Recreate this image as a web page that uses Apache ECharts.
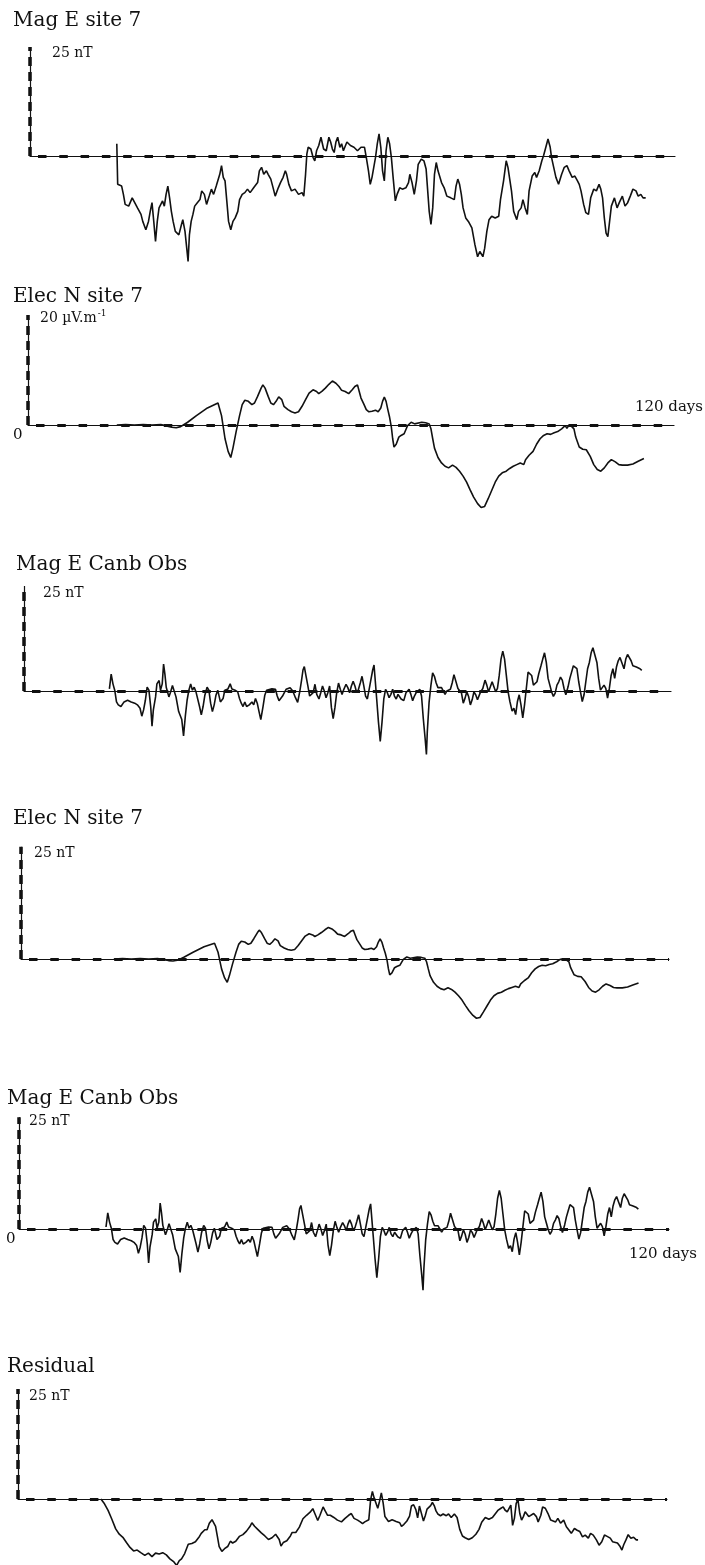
<!DOCTYPE html>
<html>
<head>
<meta charset="utf-8">
<script src="https://cdn.jsdelivr.net/npm/echarts@6/dist/echarts.min.js"></script>
<style>
html, body { margin: 0; padding: 0; background: #fff; }
#chart { width: 705px; height: 1565px; }
</style>
</head>
<body>
<div id="chart"></div>
<script>
// [day from start of record, value]
const magSite7 = [[0,2.8],[0.2,-6.5],[1.1,-6.9],[1.5,-8.8],[1.9,-11.1],[2.7,-11.5],[3.5,-9.6],[3.9,-10.0],[4.7,-11.9],[5.5,-13.4],[5.9,-15.0],[6.6,-16.9],[7.2,-15.0],[7.6,-12.7],[8.0,-10.7],[8.4,-15.0],[8.8,-19.6],[9.2,-15.0],[9.6,-11.9],[10.0,-11.1],[10.4,-10.3],[10.8,-11.5],[11.2,-8.8],[11.6,-6.9],[12.0,-9.6],[12.4,-12.7],[12.8,-15.0],[13.3,-17.3],[14.1,-18.1],[14.7,-15.7],[15.0,-14.6],[15.5,-17.3],[15.9,-21.2],[16.2,-24.2],[16.5,-18.1],[16.9,-15.0],[17.3,-13.4],[17.7,-11.5],[18.3,-10.7],[18.9,-10.0],[19.3,-8.0],[19.9,-8.8],[20.4,-11.1],[21.0,-9.2],[21.5,-7.6],[22.0,-8.8],[22.6,-6.9],[23.0,-6.5],[23.4,-4.2],[23.8,-2.2],[24.2,-4.9],[24.6,-5.7],[25.0,-10.3],[25.4,-15.0],[25.9,-16.9],[26.4,-15.0],[26.9,-14.2],[27.5,-12.7],[27.9,-10.0],[28.5,-8.8],[29.1,-8.4],[29.7,-7.6],[30.3,-8.4],[31.1,-7.3],[32.0,-6.1],[32.4,-3.4],[32.9,-2.6],[33.4,-4.2],[34.0,-3.4],[34.4,-4.2],[35.0,-5.3],[35.6,-7.6],[36.0,-9.2],[36.7,-7.3],[37.2,-6.1],[37.8,-4.9],[38.3,-3.4],[38.6,-4.2],[39.1,-6.5],[39.7,-8.0],[40.5,-7.6],[41.3,-8.8],[42.1,-8.4],[42.5,-9.2],[42.9,-4.2],[43.2,0.5],[43.5,2.0],[44.1,1.6],[44.6,-0.3],[45.0,-1.1],[45.4,1.2],[45.9,2.4],[46.4,4.3],[47.0,1.6],[47.6,1.2],[48.2,4.3],[48.6,3.2],[49.0,1.6],[49.4,0.8],[49.8,3.2],[50.2,4.3],[50.7,2.0],[51.1,2.8],[51.5,1.2],[52.3,3.2],[53.1,2.4],[53.9,2.0],[54.7,1.2],[55.5,2.0],[56.3,2.0],[56.7,-0.3],[57.2,-3.4],[57.6,-6.5],[58.0,-4.9],[58.4,-2.6],[58.8,-0.3],[59.2,2.8],[59.6,5.1],[60.0,2.0],[60.4,-3.4],[60.8,-5.7],[61.2,1.2],[61.6,4.3],[62.0,2.8],[62.4,-0.3],[62.8,-4.9],[63.3,-10.3],[63.7,-8.8],[64.3,-7.3],[64.9,-7.6],[65.7,-7.3],[66.3,-6.1],[66.6,-4.2],[67.1,-6.1],[67.6,-8.8],[68.1,-5.7],[68.5,-1.9],[69.2,-0.7],[69.8,-1.1],[70.3,-3.0],[71.0,-12.7],[71.4,-15.7],[71.8,-11.9],[72.2,-4.2],[72.6,-1.5],[73.0,-3.4],[73.8,-6.1],[74.4,-7.3],[75.0,-9.2],[75.9,-9.6],[76.7,-10.0],[77.1,-6.9],[77.5,-5.3],[77.9,-6.5],[78.3,-8.8],[78.7,-11.9],[79.3,-14.2],[79.9,-15.0],[80.7,-16.5],[81.4,-20.4],[82.0,-23.1],[82.5,-21.9],[83.2,-23.1],[83.6,-21.2],[84.1,-17.3],[84.6,-14.6],[85.2,-13.8],[86.0,-14.2],[86.8,-13.8],[87.2,-10.0],[87.9,-5.7],[88.5,-1.1],[88.9,-2.6],[89.3,-5.3],[89.7,-8.0],[90.2,-12.7],[90.9,-14.6],[91.3,-12.7],[91.9,-11.9],[92.3,-10.0],[92.8,-11.9],[93.3,-13.4],[93.7,-8.0],[94.4,-4.6],[95.0,-3.8],[95.4,-4.9],[96.0,-3.4],[96.6,-1.1],[97.0,0.1],[97.4,1.6],[98.0,3.9],[98.5,2.0],[98.8,-0.3],[99.3,-2.6],[99.8,-4.9],[100.4,-6.5],[101.1,-4.2],[101.7,-2.6],[102.3,-2.2],[102.8,-3.4],[103.5,-4.9],[104.1,-4.6],[104.7,-5.7],[105.1,-6.5],[105.5,-8.0],[106.1,-11.1],[106.6,-13.0],[107.2,-13.4],[107.7,-9.6],[108.4,-7.6],[109.0,-8.0],[109.6,-6.5],[110.0,-7.6],[110.4,-9.6],[110.8,-14.2],[111.2,-17.7],[111.6,-18.5],[112.0,-15.0],[112.4,-11.5],[113.1,-9.6],[113.7,-11.9],[114.2,-10.7],[114.9,-9.2],[115.5,-11.5],[116.1,-10.7],[116.7,-9.2],[117.3,-7.6],[118.0,-8.0],[118.5,-9.2],[119.1,-8.8],[119.6,-9.6],[120.2,-9.6]];

const elecN7 = [[0,0],[2,0.1],[4,0],[6,0.1],[8,0],[10,0.1],[11.5,-0.2],[12.5,-0.4],[13.5,-0.5],[14.5,-0.3],[15.3,0.1],[16.1,0.5],[18.1,1.7],[20.6,3.1],[23.0,4.0],[23.4,3.7],[23.8,1.7],[24.2,-0.4],[24.6,-2.5],[25.3,-4.8],[25.9,-5.9],[26.4,-4.2],[27.1,-1.3],[27.9,1.7],[28.5,3.7],[29.1,4.5],[29.9,4.3],[30.7,3.7],[31.3,4.0],[32.0,5.2],[32.8,6.7],[33.2,7.3],[33.7,6.7],[34.4,5.2],[35.0,4.0],[35.6,3.7],[36.2,4.3],[36.8,5.1],[37.5,4.6],[38.0,3.4],[38.9,2.8],[39.7,2.4],[40.5,2.2],[41.3,2.4],[42.1,3.4],[42.9,4.6],[43.7,5.8],[44.6,6.4],[45.4,6.1],[45.9,5.7],[46.6,6.1],[47.4,6.7],[48.2,7.4],[49.0,8.0],[49.8,7.6],[50.5,7.0],[51.1,6.3],[51.9,6.1],[52.7,5.7],[53.5,6.4],[54.1,7.0],[54.7,7.3],[55.1,6.1],[55.5,4.9],[56.2,3.7],[56.7,2.8],[57.3,2.4],[58.0,2.5],[58.8,2.7],[59.4,2.4],[60.0,3.1],[60.4,4.3],[60.8,5.1],[61.2,4.3],[61.6,2.8],[62.0,1.4],[62.4,-0.4],[62.7,-2.5],[63.0,-4.0],[63.5,-3.5],[64.1,-2.2],[64.6,-1.9],[65.3,-1.6],[65.7,-1.3],[66.1,-0.1],[66.9,0.5],[67.7,0.2],[69.3,0.5],[70.2,0.4],[71.0,0.2],[71.4,-0.7],[71.8,-2.5],[72.2,-4.2],[73.0,-5.9],[73.8,-6.9],[74.6,-7.5],[75.4,-7.8],[76.3,-7.3],[77.1,-7.7],[77.9,-8.4],[78.7,-9.3],[79.5,-10.4],[80.3,-11.8],[81.1,-13.1],[82.0,-14.3],[82.8,-15.0],[83.6,-14.8],[84.4,-13.4],[85.2,-11.9],[86.0,-10.4],[86.8,-9.3],[87.6,-8.7],[88.5,-8.4],[89.3,-7.9],[90.1,-7.5],[90.9,-7.2],[91.7,-6.9],[92.1,-6.6],[92.5,-7.2],[92.9,-6.3],[93.7,-5.5],[94.6,-4.8],[95.4,-3.5],[96.2,-2.5],[97.0,-1.9],[97.8,-1.6],[98.6,-1.7],[99.4,-1.4],[100.2,-1.2],[101.1,-0.7],[101.9,-0.1],[102.3,-0.6],[102.7,-0.1],[103.3,-0.2],[103.9,-0.7],[104.3,-2.2],[105.1,-4.0],[105.9,-4.4],[106.7,-4.5],[107.6,-5.7],[108.4,-7.2],[109.2,-8.1],[110.0,-8.4],[110.8,-7.8],[111.6,-6.9],[112.4,-6.3],[113.3,-6.7],[114.1,-7.2],[114.9,-7.3],[116.1,-7.3],[117.3,-7.1],[118.5,-6.6],[119.8,-6.1]];

const magCanb = [[0,0.5],[0.4,4.0],[0.8,1.7],[1.2,0.2],[1.6,-2.6],[2.0,-3.3],[2.6,-3.7],[3.3,-2.6],[4.1,-2.2],[4.9,-2.6],[5.7,-2.9],[6.3,-3.3],[6.9,-4.1],[7.3,-6.0],[7.7,-4.5],[8.1,-2.2],[8.5,0.9],[8.9,0.2],[9.3,-3.7],[9.6,-8.4],[9.9,-4.5],[10.4,-1.4],[10.7,1.7],[11.2,2.5],[11.5,0.2],[11.9,1.7],[12.2,6.4],[12.5,4.0],[12.8,0.9],[13.4,-1.4],[13.8,-0.2],[14.2,1.3],[14.6,0.9],[15.0,-1.4],[15.6,-4.9],[16.3,-6.8],[16.7,-10.7],[17.1,-6.0],[17.5,-2.2],[17.9,0.2],[18.3,1.7],[18.7,0.2],[19.1,0.9],[19.5,-0.2],[19.9,-0.6],[20.3,-3.7],[20.7,-5.7],[21.1,-3.7],[21.5,-1.0],[22.0,0.9],[22.4,0.2],[22.8,-2.9],[23.2,-4.9],[23.6,-3.3],[24.0,-1.0],[24.4,0.2],[25.0,-2.6],[25.6,-1.8],[26.0,0.2],[26.7,0.5],[27.2,1.7],[27.6,0.5],[28.3,0.2],[28.9,-0.2],[29.3,-1.8],[29.7,-2.9],[30.1,-3.7],[30.5,-2.6],[30.9,-3.7],[31.5,-3.3],[32.1,-2.6],[32.5,-3.3],[32.9,-1.8],[33.3,-2.9],[33.7,-4.9],[34.1,-6.8],[34.6,-3.7],[35.0,-1.0],[35.4,0.2],[35.8,0.5],[36.6,0.5],[37.4,0.4],[37.8,-1.2],[38.2,-2.3],[38.6,-2.7],[39.0,-1.2],[39.4,-0.4],[39.8,0.4],[40.7,0.8],[41.3,0],[41.9,-1.6],[42.4,-2.7],[42.9,0],[43.3,2.7],[43.6,5.0],[43.9,5.8],[44.3,3.5],[44.7,1.2],[45.1,-1.2],[45.5,-1.6],[45.9,-0.4],[46.3,1.6],[46.7,-0.8],[47.2,-1.9],[47.6,-0.4],[48.0,1.2],[48.4,0],[48.8,-1.6],[49.2,-0.4],[49.6,1.2],[50.0,-3.9],[50.4,-6.6],[50.8,-3.9],[51.2,-0.4],[51.6,1.9],[52.0,0.4],[52.4,-0.8],[52.8,0.4],[53.3,1.6],[53.7,0.8],[54.1,-0.4],[54.5,1.2],[54.9,2.3],[55.3,1.2],[55.7,-0.4],[56.1,0.4],[56.5,1.9],[56.9,3.5],[57.3,1.2],[57.7,-1.2],[58.1,-1.9],[58.5,0.4],[58.9,2.7],[59.3,5.0],[59.6,6.2],[59.8,3.5],[60.2,-1.9],[60.6,-7.4],[61.0,-12.0],[61.4,-7.4],[61.8,-1.9],[62.2,0.4],[62.6,-0.4],[63.0,-1.6],[63.4,-0.8],[63.8,0.4],[64.2,-1.2],[64.6,-1.9],[65.0,-0.8],[65.7,-1.9],[66.3,-2.3],[66.8,-0.4],[67.5,0.4],[67.9,-0.8],[68.3,-2.3],[68.7,-1.2],[69.1,-0.4],[69.5,-0.8],[69.9,0.4],[70.3,-1.2],[70.7,-6.6],[71.1,-11.2],[71.4,-15.1],[71.6,-9.7],[72.0,-2.7],[72.4,1.2],[72.8,4.3],[73.2,3.5],[73.6,1.9],[74.0,0.8],[74.4,0.4],[74.8,0.8],[75.2,0.4],[75.6,-0.8],[76.0,0],[76.8,0.4],[77.2,1.9],[77.6,3.9],[78.0,3.7],[78.5,0.6],[78.9,0.6],[79.3,-0.5],[79.7,-2.9],[80.1,-1.7],[80.5,-0.2],[80.9,-1.3],[81.3,-3.3],[81.7,-2.1],[82.1,-0.2],[82.5,-0.9],[82.9,-2.1],[83.6,-0.2],[84.1,0.6],[84.6,2.6],[85.0,1.4],[85.4,-0.2],[85.8,1.0],[86.2,2.2],[87.0,-0.2],[87.4,0.6],[87.8,3.7],[88.2,7.6],[88.6,9.5],[89.0,7.6],[89.4,3.7],[89.8,-0.2],[90.2,-2.5],[90.7,-4.8],[91.1,-4.1],[91.5,-5.6],[91.9,-2.5],[92.3,-0.9],[92.7,-3.3],[93.1,-6.4],[93.5,-3.3],[93.9,0.6],[94.3,4.5],[94.7,4.1],[95.1,3.7],[95.5,1.4],[95.9,1.0],[96.3,2.2],[96.7,4.1],[97.2,6.0],[97.6,7.6],[98.0,9.1],[98.4,6.8],[98.8,3.0],[99.2,1.4],[99.6,-0.2],[100.0,-1.3],[100.4,-0.5],[100.8,1.4],[101.2,2.2],[101.6,3.3],[102.0,2.6],[102.4,0.6],[102.8,-0.9],[103.3,1.0],[103.7,3.0],[104.1,4.5],[104.5,6.0],[104.9,6.4],[105.3,5.3],[105.7,2.2],[106.1,-0.2],[106.5,-2.5],[106.9,-0.9],[107.3,2.2],[107.7,5.3],[108.1,6.8],[108.5,9.1],[108.9,10.3],[109.3,9.9],[109.8,6.8],[110.2,3.0],[110.6,0.2],[111.0,0.6],[111.4,1.4],[111.8,0.6],[112.2,-1.7],[112.6,0.6],[113.0,3.7],[113.4,5.3],[113.8,3.0],[114.2,5.7],[114.6,7.2],[115.0,8.0],[115.4,6.8],[115.9,5.3],[116.3,7.6],[116.7,8.7],[117.1,8.4],[117.5,7.2],[117.9,6.0],[118.3,6.0],[118.7,5.7],[119.1,5.7],[119.5,5.3],[119.9,4.9]];

const residual = [[0,0],[0.8,-1.1],[1.6,-2.6],[2.4,-4.5],[3.3,-6.8],[4.1,-8.0],[4.9,-8.7],[5.7,-9.9],[6.5,-11.0],[7.3,-11.8],[8.1,-11.6],[8.9,-12.2],[9.8,-12.8],[10.6,-12.3],[11.4,-13.1],[12.2,-12.3],[13.0,-12.5],[13.8,-12.2],[14.6,-12.7],[15.4,-13.6],[16.3,-14.3],[16.9,-15.1],[17.5,-14.0],[18.0,-13.6],[18.7,-12.4],[19.5,-10.3],[20.3,-10.1],[21.1,-9.7],[22.0,-8.5],[22.4,-7.8],[23.2,-7.0],[23.7,-7.0],[24.2,-5.5],[24.8,-4.7],[25.2,-5.1],[25.6,-6.2],[26.0,-8.5],[26.4,-10.8],[27.0,-11.9],[27.6,-11.3],[28.3,-10.8],[28.9,-9.6],[29.4,-10.0],[30.1,-9.6],[30.9,-8.5],[31.7,-8.1],[32.5,-7.3],[33.3,-6.2],[33.7,-5.4],[34.3,-6.2],[35.0,-6.9],[35.8,-7.7],[36.6,-8.4],[37.4,-9.2],[38.2,-8.8],[39.0,-8.0],[39.8,-9.2],[40.2,-10.7],[40.7,-9.9],[41.5,-9.5],[42.3,-8.4],[42.7,-7.6],[43.5,-7.6],[44.3,-6.4],[45.1,-4.5],[45.9,-3.7],[46.7,-3.0],[47.3,-2.2],[47.8,-3.4],[48.4,-4.9],[48.9,-3.7],[49.6,-1.8],[50.0,-2.6],[50.6,-3.7],[51.2,-3.7],[52.0,-4.2],[52.8,-4.8],[53.7,-5.2],[54.5,-4.4],[55.3,-3.7],[55.9,-3.3],[56.5,-4.4],[57.3,-4.8],[57.9,-5.2],[58.4,-5.6],[58.9,-5.2],[59.8,-4.7],[60.2,-0.2],[60.6,1.7],[61.0,0.2],[61.4,-0.2],[61.8,-2.1],[62.2,-0.5],[62.6,1.4],[63.0,-0.9],[63.4,-4.0],[64.2,-5.1],[65.0,-4.7],[65.9,-5.1],[66.7,-5.4],[67.1,-6.2],[67.6,-5.8],[68.3,-5.0],[68.9,-3.9],[69.3,-1.6],[69.8,-1.3],[70.3,-2.4],[70.7,-4.3],[71.1,-1.6],[71.5,-3.1],[72.0,-5.0],[72.4,-3.8],[72.8,-2.3],[73.2,-1.9],[73.6,-1.5],[74.0,-0.8],[74.4,-1.5],[74.8,-2.7],[75.2,-3.4],[75.8,-3.8],[76.4,-3.4],[77.1,-3.8],[77.6,-3.4],[78.2,-4.2],[78.9,-3.4],[79.5,-4.2],[80.1,-6.9],[80.7,-8.4],[81.3,-8.8],[82.1,-9.2],[82.9,-8.8],[83.7,-8.0],[84.4,-6.9],[85.0,-5.3],[85.8,-4.2],[86.6,-4.6],[87.4,-4.2],[88.0,-3.4],[88.6,-2.6],[89.3,-2.1],[89.8,-1.8],[90.2,-2.5],[90.7,-2.9],[91.1,-2.5],[91.5,-1.4],[91.9,-6.0],[92.3,-4.4],[92.7,-1.0],[93.1,-0.2],[93.5,-3.3],[93.9,-4.8],[94.3,-4.0],[94.7,-2.9],[95.1,-3.3],[95.5,-4.0],[95.9,-4.0],[96.6,-3.3],[97.2,-4.0],[97.6,-5.2],[98.2,-3.7],[98.6,-1.8],[99.2,-2.1],[99.8,-3.3],[100.4,-4.8],[100.8,-4.4],[101.5,-5.2],[102.0,-4.4],[102.6,-5.5],[103.3,-4.8],[103.9,-6.3],[104.5,-7.1],[105.0,-7.8],[105.7,-6.7],[106.3,-7.1],[106.9,-7.4],[107.5,-8.6],[108.1,-8.2],[108.8,-8.9],[109.3,-7.8],[109.9,-8.2],[110.6,-9.3],[111.2,-10.5],[111.8,-9.7],[112.4,-8.2],[113.0,-8.5],[113.7,-8.9],[114.2,-9.7],[114.6,-10.0],[115.3,-10.0],[115.9,-10.8],[116.3,-11.6],[116.7,-10.4],[117.2,-9.3],[117.7,-8.1],[118.3,-8.9],[118.9,-8.7],[119.5,-9.3],[119.9,-9.3]];

const titles = ['Mag E site 7', 'Elec N site 7', 'Mag E Canb Obs', 'Elec N site 7', 'Mag E Canb Obs', 'Residual'];
const scaleLabels = ['25 nT', '{a|20 µV.m}{s|-1}', '25 nT', '25 nT', '25 nT', '25 nT'];
const panelData = [magSite7, elecN7, magCanb, elecN7, magCanb, residual];
// height of the scale bar, in the units the trace is stored in
const barTop = [25, 20, 25, 28.4, 27.6, 25];
const yBottom = [-30, -18, -20, -20, -20, -15];

// page layout of each panel (pixels)
const layout = [
  { xL: 30, xR: 675, x0: 116.8, ppd: 4.40, zeroY: 156, ppu: 4.36, titleY: 21, labelX: 52, labelY: 53 },
  { xL: 28, xR: 674, x0: 116.8, ppd: 4.40, zeroY: 425, ppu: 5.5, titleY: 297, labelX: 40, labelY: 318 },
  { xL: 24, xR: 671, x0: 109.4, ppd: 4.44, zeroY: 691, ppu: 4.2, titleY: 565, labelX: 43, labelY: 593 },
  { xL: 21, xR: 669, x0: 113.8, ppd: 4.38, zeroY: 959, ppu: 3.95, titleY: 819, labelX: 34, labelY: 853 },
  { xL: 19, xR: 669, x0: 106.0, ppd: 4.44, zeroY: 1229, ppu: 4.05, titleY: 1099, labelX: 29, labelY: 1121 },
  { xL: 18, xR: 667, x0: 100.9, ppd: 4.48, zeroY: 1499, ppu: 4.4, titleY: 1367, labelX: 29, labelY: 1396 }
];
const titleX = [13, 13, 16, 13, 7, 7];

const serif = '"DejaVu Serif", "Liberation Serif", serif';
const ink = '#111';

const grids = [], xAxes = [], yAxes = [], series = [], graphics = [];

layout.forEach((p, i) => {
  const xMin = (p.xL - p.x0) / p.ppd;
  const xMax = (p.xR - p.x0) / p.ppd;
  const notch = 4 / p.ppd;
  grids.push({
    left: p.xL,
    top: p.zeroY - barTop[i] * p.ppu,
    width: p.xR - p.xL,
    height: (barTop[i] - yBottom[i]) * p.ppu,
    outerBoundsMode: 'none'
  });
  xAxes.push({
    type: 'value', gridIndex: i, min: xMin, max: xMax,
    axisLine: { show: true, onZero: true, lineStyle: { color: ink, width: 1.2 } },
    axisTick: { show: false }, axisLabel: { show: false }, splitLine: { show: false }
  });
  yAxes.push({
    type: 'value', gridIndex: i, min: yBottom[i], max: barTop[i],
    axisLine: { show: false }, axisTick: { show: false },
    axisLabel: { show: false }, splitLine: { show: false }
  });
  series.push({
    type: 'line', xAxisIndex: i, yAxisIndex: i,
    data: panelData[i],
    symbol: 'none', showSymbol: false,
    lineStyle: { color: ink, width: 1.6 },
    animation: false,
    z: 3,
    markLine: {
      silent: true, symbol: ['none', 'none'], animation: false,
      label: { show: false },
      data: [
        { yAxis: 0, lineStyle: { color: ink, width: 3, type: [8.5, 12.8], dashOffset: 13.3 } },
        [{ coord: [xMin, 0], lineStyle: { color: ink, width: 1.2, type: 'solid' } }, { coord: [xMin, barTop[i]] }],
        [{ coord: [xMin, 0], lineStyle: { color: ink, width: 3.5, type: [9, 6] } }, { coord: [xMin, barTop[i]] }],
        [{ coord: [xMin - notch, barTop[i] * 0.5], lineStyle: { color: ink, width: 4, type: 'solid' } }, { coord: [xMin, barTop[i] * 0.47] }]
      ]
    }
  });
  graphics.push({
    type: 'text', x: titleX[i], y: layout[i].titleY,
    style: { text: titles[i], font: '20px ' + serif, fill: ink, align: 'left', verticalAlign: 'middle' }
  });
  graphics.push({
    type: 'text', x: p.labelX, y: p.labelY,
    style: {
      text: scaleLabels[i], font: '14px ' + serif, fill: ink, align: 'left', verticalAlign: 'middle',
      rich: {
        a: { fontSize: 14, fontFamily: serif, fill: ink },
        s: { fontSize: 9, fontFamily: serif, fill: ink, padding: [0, 0, 9, 1] }
      }
    }
  });
});

// zero and time-span labels
graphics.push({ type: 'text', x: 13, y: 435, style: { text: '0', font: '15px ' + serif, fill: ink, verticalAlign: 'middle' } });
graphics.push({ type: 'text', x: 703, y: 407, style: { text: '120 days', font: '15px ' + serif, fill: ink, align: 'right', verticalAlign: 'middle' } });
graphics.push({ type: 'text', x: 6, y: 1239, style: { text: '0', font: '15px ' + serif, fill: ink, verticalAlign: 'middle' } });
graphics.push({ type: 'text', x: 697, y: 1254, style: { text: '120 days', font: '15px ' + serif, fill: ink, align: 'right', verticalAlign: 'middle' } });

const chart = echarts.init(document.getElementById('chart'), null, { renderer: 'canvas' });
chart.setOption({
  backgroundColor: '#fff',
  animation: false,
  grid: grids,
  xAxis: xAxes,
  yAxis: yAxes,
  series: series,
  graphic: graphics
});
</script>
</body>
</html>
